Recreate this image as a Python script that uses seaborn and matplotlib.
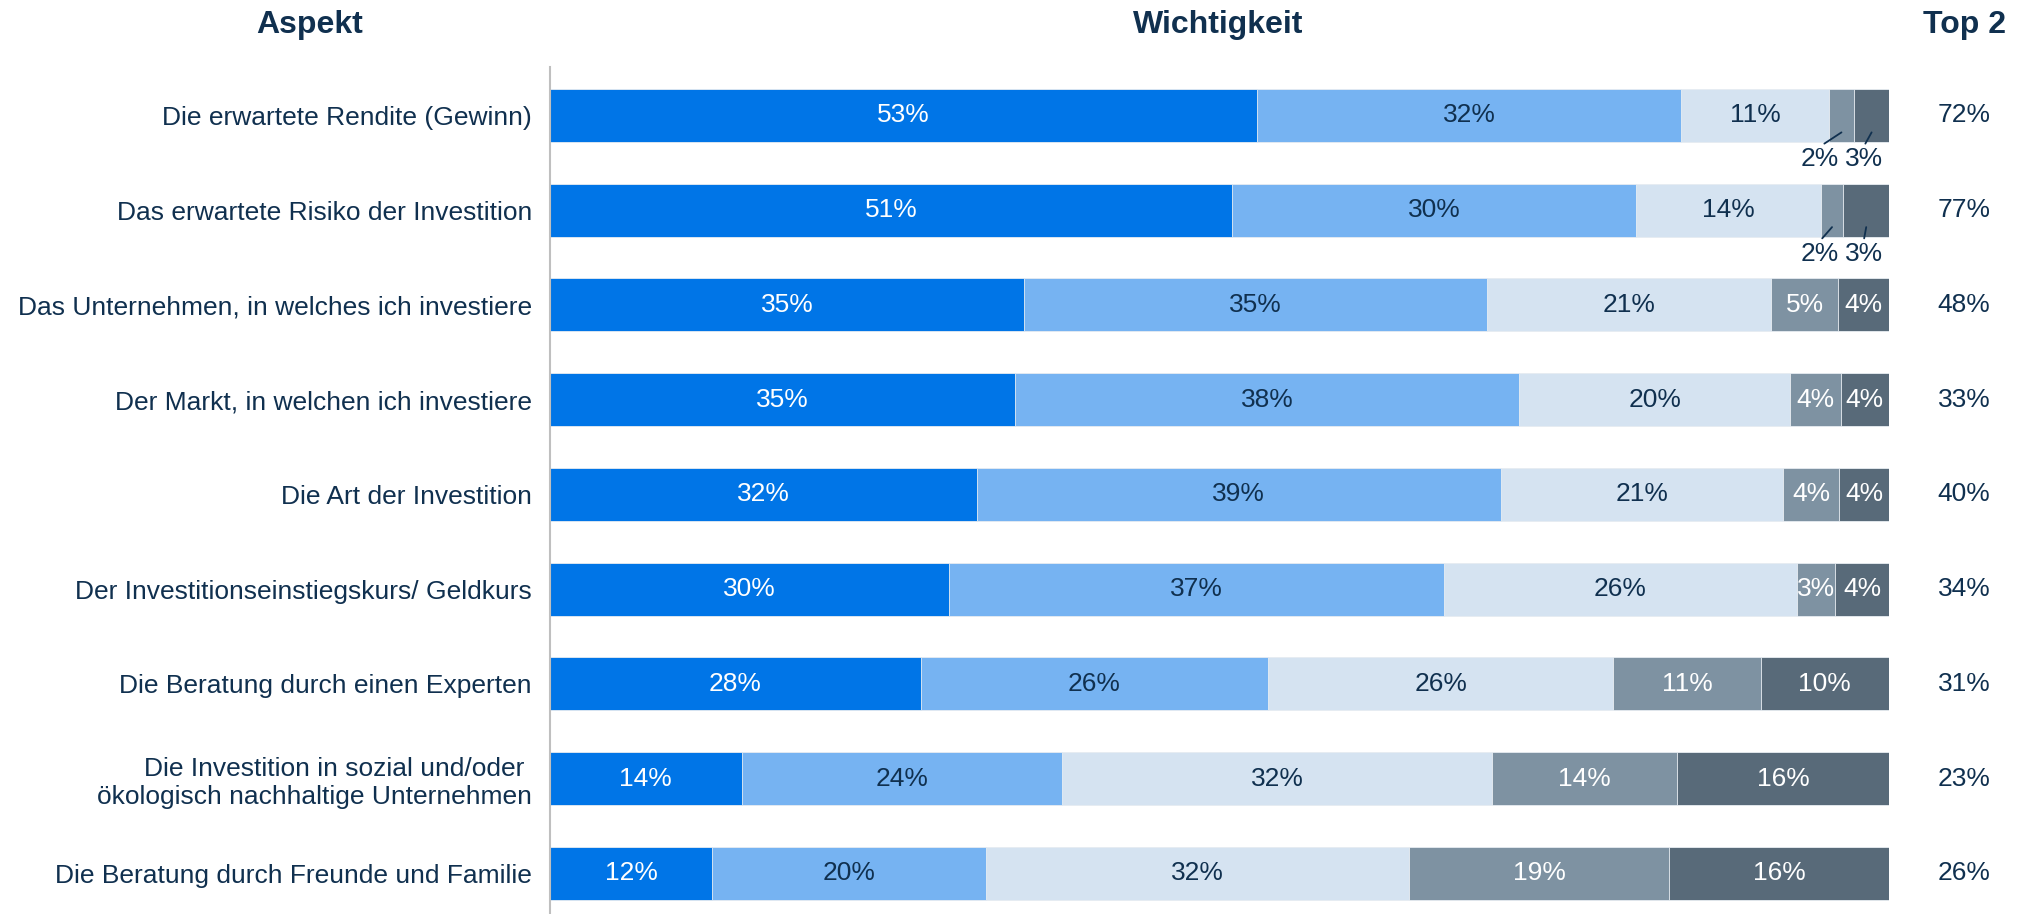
import numpy as np
import pandas as pd
import seaborn as sns
import matplotlib
matplotlib.use('Agg')
import matplotlib.pyplot as plt
import matplotlib.transforms as mtransforms

# data (shares in %, per aspect)
aspects = [
    "Die erwartete Rendite (Gewinn)",
    "Das erwartete Risiko der Investition",
    "Das Unternehmen, in welches ich investiere",
    "Der Markt, in welchen ich investiere",
    "Die Art der Investition",
    "Der Investitionseinstiegskurs/ Geldkurs",
    "Die Beratung durch einen Experten",
    "Die Investition in sozial und/oder \nökologisch nachhaltige Unternehmen",
    "Die Beratung durch Freunde und Familie",
]
level1 = [52.8, 50.9, 35.4, 34.7, 31.9, 29.8, 27.7, 14.3, 12.1]
level2 = [31.7, 30.1, 34.6, 37.7, 39.1, 37.0, 26.0, 23.9, 20.4]
level3 = [11.0, 13.8, 21.2, 20.2, 21.1, 26.3, 25.8, 32.1, 31.6]
level4 = [1.9, 1.7, 5.0, 3.8, 4.2, 2.9, 11.0, 13.8, 19.4]
level5 = [2.6, 3.4, 3.8, 3.6, 3.7, 4.0, 9.6, 15.8, 16.4]
top2 = [72, 77, 48, 33, 40, 34, 31, 23, 26]

colors = ['#0075E7', '#76B3F2', '#D5E3F1', '#7E92A2', '#586A79']
label_colors = ['white', '#10304f', '#10304f', 'white', 'white']
text_color = '#10304f'

levels = [level1, level2, level3, level4, level5]
df = pd.DataFrame({f'l{i+1}': v for i, v in enumerate(levels)}, index=aspects)
total = df.sum(axis=1)
df = df.div(total, axis=0) * 100
cum = df.cumsum(axis=1)

sns.set_theme(style='white')
plt.rcParams['font.family'] = ['Liberation Sans', 'DejaVu Sans']

fig = plt.figure(figsize=(20.19, 9.14), dpi=100)
ax = fig.add_axes([550 / 2019, 0.0, 1339 / 2019, 1 - 67 / 914])

# stacked bars: draw cumulative totals from the right end back to the left
for i in range(4, -1, -1):
    col = cum.columns[i]
    plot_df = pd.DataFrame({'aspect': aspects, 'x': cum[col].values})
    sns.barplot(data=plot_df, x='x', y='aspect', color=colors[i], orient='h',
                width=0.56, saturation=1, ax=ax, edgecolor='#e9eef3', linewidth=0.6)

ax.set_xlim(0, 100)
ax.set_ylim(8.43, -0.51)
ax.set_xlabel('')
ax.set_ylabel('')
ax.set_xticks([])
for s in ['top', 'right', 'bottom']:
    ax.spines[s].set_visible(False)
ax.spines['left'].set_color('#bfbfbf')
ax.spines['left'].set_linewidth(1.5)
ax.tick_params(axis='y', length=0, pad=13, labelsize=19, labelcolor=text_color)
for t in ax.get_yticklabels():
    t.set_multialignment('right')

# segment labels
small_pos = [94.8, 98.1]
for r in range(len(aspects)):
    for i in range(5):
        share = df.iloc[r, i]
        left = cum.iloc[r, i] - share
        mid = left + share / 2
        lab = f"{levels[i][r]:.0f}%"
        if r < 2 and i >= 3:
            # tiny segments get their label below the bar with a leader line
            xt = small_pos[i - 3]
            ax.annotate(lab, xy=(mid, r + 0.18), xytext=(xt, r + 0.46),
                        ha='center', va='center', fontsize=19, color=text_color,
                        arrowprops=dict(arrowstyle='-', color=text_color, lw=1.3,
                                        shrinkA=0, shrinkB=0, relpos=(0.5, 1.0)),
                        annotation_clip=False)
        else:
            ax.text(mid, r, lab, ha='center', va='center', fontsize=19,
                    color=label_colors[i])

# Top 2 column
trans = mtransforms.blended_transform_factory(fig.transFigure, ax.transData)
for r, v in enumerate(top2):
    ax.text(1964 / 2019, r, f"{v}%", transform=trans, ha='center', va='center',
            fontsize=19, color=text_color)

# headers
hy = 1 - 25 / 914
fig.text(310 / 2019, hy, 'Aspekt', ha='center', va='center', fontsize=23,
         fontweight='bold', color=text_color)
fig.text(1218 / 2019, hy, 'Wichtigkeit', ha='center', va='center', fontsize=23,
         fontweight='bold', color=text_color)
fig.text(1964 / 2019, hy, 'Top 2', ha='center', va='center', fontsize=23,
         fontweight='bold', color=text_color)

fig.savefig('out.png', dpi=100, facecolor='white')
